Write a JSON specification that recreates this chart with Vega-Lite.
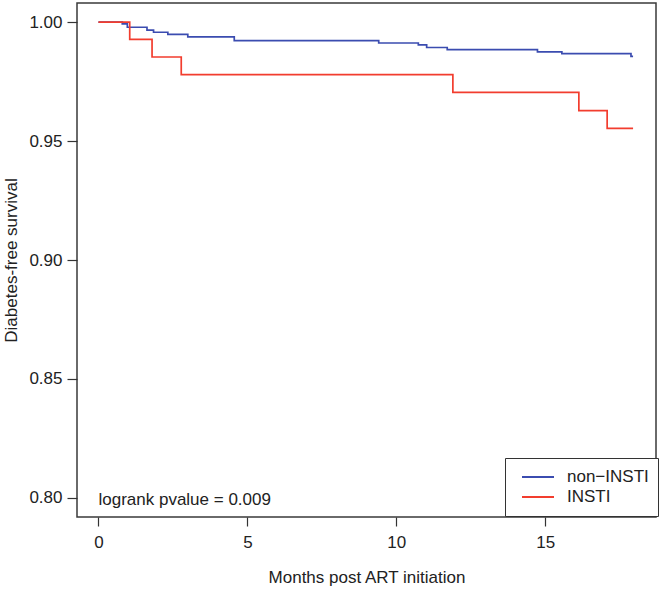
{
  "$schema": "https://vega.github.io/schema/vega-lite/v6.json",
  "width": 579,
  "height": 514,
  "autosize": {"type": "none"},
  "padding": {"left": 77, "top": 3, "right": 4, "bottom": 72},
  "background": "white",
  "config": {
    "font": "Liberation Sans",
    "view": {"stroke": "#3a3a3a", "strokeWidth": 1.5},
    "axis": {
      "labelFont": "Liberation Sans",
      "titleFont": "Liberation Sans",
      "labelFontSize": 17,
      "titleFontSize": 17,
      "labelColor": "#222222",
      "titleColor": "#222222",
      "titleFontWeight": "normal",
      "grid": false,
      "domain": false,
      "tickColor": "#333333",
      "tickWidth": 1.2
    }
  },
  "layer": [
    {
      "data": {
        "values": [
          {"month": 0.0, "surv": 1.0, "group": "non−INSTI"},
          {"month": 0.8, "surv": 0.9992, "group": "non−INSTI"},
          {"month": 0.97, "surv": 0.9978, "group": "non−INSTI"},
          {"month": 1.63, "surv": 0.9966, "group": "non−INSTI"},
          {"month": 1.85, "surv": 0.9957, "group": "non−INSTI"},
          {"month": 2.33, "surv": 0.9948, "group": "non−INSTI"},
          {"month": 3.0, "surv": 0.9938, "group": "non−INSTI"},
          {"month": 4.56, "surv": 0.9922, "group": "non−INSTI"},
          {"month": 9.41, "surv": 0.9912, "group": "non−INSTI"},
          {"month": 10.74, "surv": 0.9904, "group": "non−INSTI"},
          {"month": 11.02, "surv": 0.9893, "group": "non−INSTI"},
          {"month": 11.71, "surv": 0.9884, "group": "non−INSTI"},
          {"month": 14.74, "surv": 0.9875, "group": "non−INSTI"},
          {"month": 15.56, "surv": 0.9867, "group": "non−INSTI"},
          {"month": 17.88, "surv": 0.9856, "group": "non−INSTI"},
          {"month": 17.95, "surv": 0.9856, "group": "non−INSTI"},
          {"month": 0.0, "surv": 1.0, "group": "INSTI"},
          {"month": 1.05, "surv": 0.9927, "group": "INSTI"},
          {"month": 1.8, "surv": 0.9853, "group": "INSTI"},
          {"month": 2.78, "surv": 0.9779, "group": "INSTI"},
          {"month": 11.9, "surv": 0.9704, "group": "INSTI"},
          {"month": 16.13, "surv": 0.9628, "group": "INSTI"},
          {"month": 17.08, "surv": 0.9553, "group": "INSTI"},
          {"month": 17.95, "surv": 0.9553, "group": "INSTI"}
        ]
      },
      "mark": {"type": "line", "interpolate": "step-after", "strokeWidth": 1.7},
      "encoding": {
        "x": {
          "field": "month",
          "type": "quantitative",
          "scale": {"domain": [-0.72, 18.72], "nice": false, "zero": false},
          "axis": {
            "values": [0, 5, 10, 15],
            "title": "Months post ART initiation",
            "tickSize": 9,
            "labelPadding": 8,
            "titleY": 65,
            "titleBaseline": "alphabetic"
          }
        },
        "y": {
          "field": "surv",
          "type": "quantitative",
          "scale": {"domain": [0.792, 1.008], "nice": false, "zero": false},
          "axis": {
            "values": [0.8, 0.85, 0.9, 0.95, 1.0],
            "format": ".2f",
            "title": "Diabetes-free survival",
            "tickSize": 10,
            "labelPadding": 5,
            "titleX": -61,
            "titleY": 257,
            "titleAngle": 270,
            "titleBaseline": "alphabetic"
          }
        },
        "color": {
          "field": "group",
          "type": "nominal",
          "scale": {"domain": ["non−INSTI", "INSTI"], "range": ["#3b4cb0", "#f23d2e"]},
          "legend": {
            "orient": "none",
            "legendX": 428,
            "legendY": 455,
            "title": null,
            "symbolType": "stroke",
            "symbolSize": 1024,
            "symbolStrokeWidth": 1.8,
            "symbolOffset": 7,
            "clipHeight": 20,
            "labelFont": "Liberation Sans",
            "labelFontSize": 17,
            "labelColor": "#222222",
            "labelOffset": 12,
            "rowPadding": 0,
            "padding": 9,
            "strokeColor": "#333333",
            "fillColor": "white"
          }
        }
      }
    },
    {
      "data": {"values": [{"month": 0, "surv": 0.797, "label": "logrank pvalue = 0.009"}]},
      "mark": {"type": "text", "align": "left", "baseline": "alphabetic", "fontSize": 17, "font": "Liberation Sans", "color": "#222222"},
      "encoding": {
        "x": {"field": "month", "type": "quantitative"},
        "y": {"field": "surv", "type": "quantitative"},
        "text": {"field": "label"}
      }
    }
  ]
}
